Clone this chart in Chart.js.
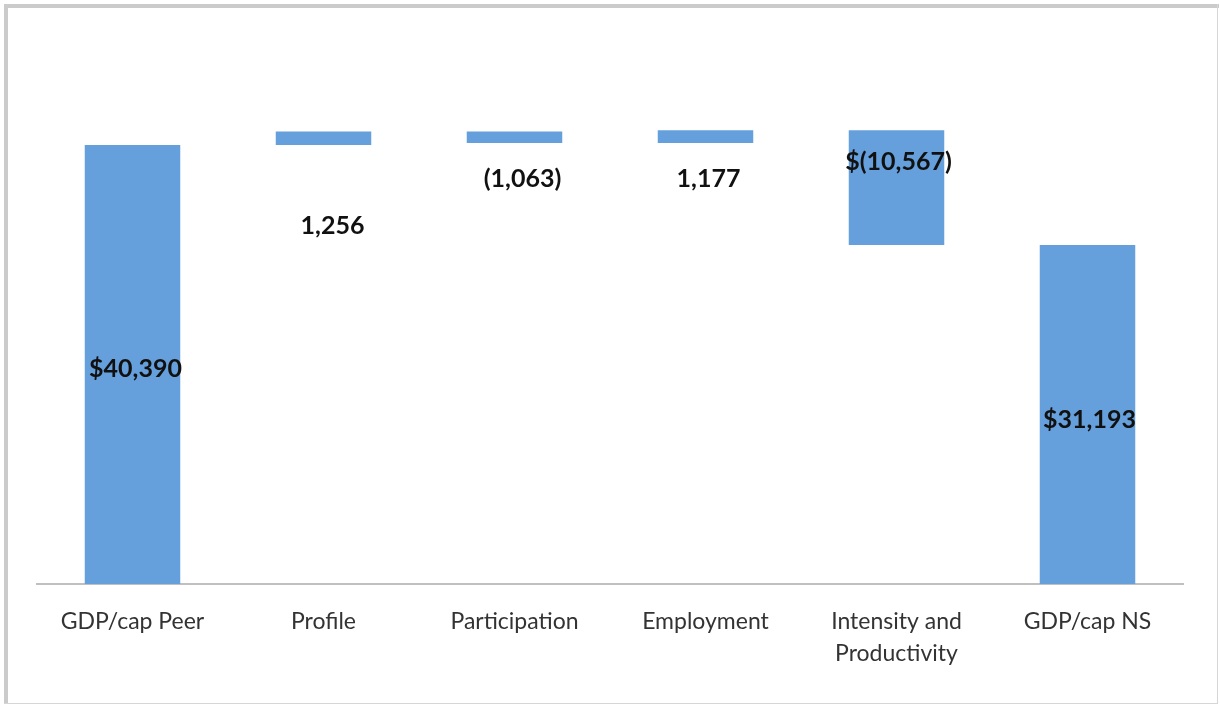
<!DOCTYPE html>
<html>
<head>
<meta charset="utf-8">
<script src="https://cdn.jsdelivr.net/npm/chart.js@4"></script>
<style>
    html, body { margin: 0; padding: 0; background: #ffffff; }
    .chart-box { position: relative; width: 1220px; height: 705px; }
</style>
</head>
<body>
<div class="chart-box"><canvas id="waterfall"></canvas></div>
<script>
const categories = ['GDP/cap Peer', 'Profile', 'Participation', 'Employment', ['Intensity and', 'Productivity'], 'GDP/cap NS']
// first and last are totals, the rest are steps between them
const values = [40390, 1256, -1063, 1177, -10567, 31193]
const isTotal = [true, false, false, false, false, true]
const valueLabels = ['$40,390', '1,256', '(1,063)', '1,177', '$(10,567)', '$31,193']

// label nudges in px, measured from the middle of each bar
const labelDx = [3, 9, 8, 3, 2, 2]
const labelDy = [4, 88, 42, 42, -26, 5]

const barColor = '#66a0dc'

// floating [from, to] ranges for the waterfall
let running = 0
const ranges = values.map((v, i) => {
    if (isTotal[i]) {
        running = v
        return [0, v]
    }
    const from = running
    running += v
    return [from, running]
})

const frame = {
    id: 'frame',
    afterDraw(chart) {
        const ctx = chart.ctx
        ctx.save()
        ctx.fillStyle = '#cbcbcb'
        ctx.fillRect(4, 4, 1215, 4)
        ctx.fillRect(4, 4, 4, 700)
        ctx.fillStyle = '#d6d6d6'
        ctx.fillRect(1217, 4, 1, 700)
        ctx.fillRect(4, 703, 1214, 1)
        ctx.restore()
    }
}

const barLabels = {
    id: 'barLabels',
    afterDatasetsDraw(chart) {
        const ctx = chart.ctx
        const meta = chart.getDatasetMeta(0)
        ctx.save()
        ctx.font = 'bold 25px Lato, "Open Sans", sans-serif'
        ctx.fillStyle = '#111111'
        ctx.textAlign = 'center'
        ctx.textBaseline = 'middle'
        meta.data.forEach((bar, i) => {
            const mid = (bar.y + bar.base) / 2
            ctx.fillText(valueLabels[i], bar.x + labelDx[i], mid + labelDy[i])
        })
        ctx.restore()
    }
}

const ctx = document.getElementById('waterfall').getContext('2d')
const chart = new Chart(ctx, {
    type: 'bar',
    data: {
        labels: categories,
        datasets: [{
            data: ranges,
            backgroundColor: barColor,
            borderWidth: 0,
            barPercentage: 0.5,
            categoryPercentage: 1
        }]
    },
    options: {
        responsive: true,
        maintainAspectRatio: false,
        animation: false,
        layout: {
            padding: {left: 37, right: 37, top: 95, bottom: 0}
        },
        plugins: {
            legend: {display: false},
            tooltip: {enabled: false}
        },
        scales: {
            x: {
                grid: {display: false},
                border: {display: true, color: '#c0c0c0', width: 2},
                ticks: {
                    color: '#333333',
                    padding: 13,
                    maxRotation: 0,
                    autoSkip: false,
                    font: {family: 'Lato, "Open Sans", sans-serif', size: 23, lineHeight: 1.4}
                },
                afterFit(scale) { scale.height = 121 }
            },
            y: {
                display: false,
                min: 0,
                max: 45000
            }
        }
    },
    plugins: [frame, barLabels]
})
</script>
</body>
</html>
